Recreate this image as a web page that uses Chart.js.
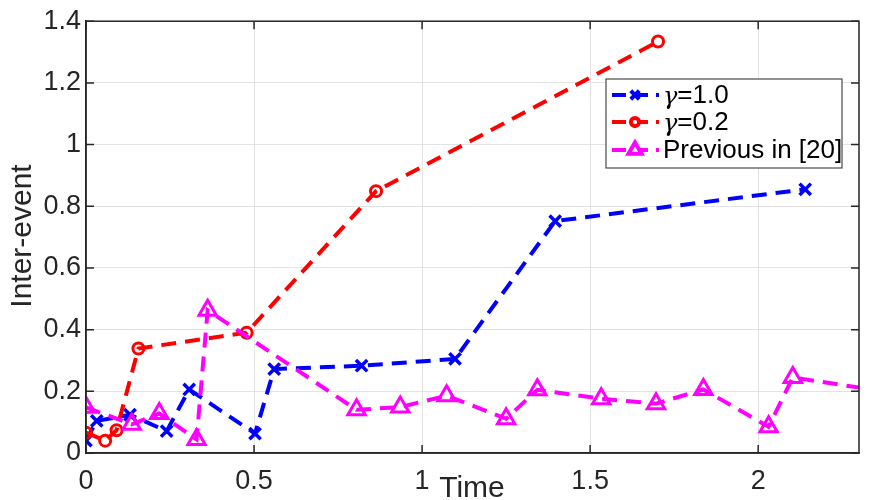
<!DOCTYPE html>
<html>
<head>
<meta charset="utf-8">
<script src="https://cdn.jsdelivr.net/npm/chart.js@4.4.0/dist/chart.umd.min.js"></script>
<style>
  html, body { margin: 0; padding: 0; background: #ffffff; }
  #wrap { width: 875px; height: 500px; }
</style>
</head>
<body>
<div id="wrap"><canvas id="myChart" width="875" height="500"></canvas></div>
<script>
// series data
const gamma1X = [0, 0.032, 0.131, 0.24, 0.307, 0.503, 0.56, 0.82, 1.098, 1.396, 2.14];
const gamma1Y = [0.04, 0.104, 0.124, 0.071, 0.206, 0.063, 0.272, 0.283, 0.305, 0.752, 0.855];

const gamma02X = [0, 0.057, 0.091, 0.156, 0.478, 0.863, 1.702];
const gamma02Y = [0.066, 0.04, 0.074, 0.339, 0.39, 0.849, 1.334];

const prevX = [0, 0.136, 0.218, 0.329, 0.362, 0.805, 0.935, 1.073, 1.25, 1.343, 1.533, 1.696, 1.837, 2.031, 2.103, 2.45];
const prevY = [0.148, 0.093, 0.128, 0.044, 0.463, 0.14, 0.149, 0.186, 0.111, 0.205, 0.176, 0.16, 0.206, 0.085, 0.245, 0.187];

const xTicks = [0, 0.5, 1, 1.5, 2];
const yTicks = [0, 0.2, 0.4, 0.6, 0.8, 1, 1.2, 1.4];

const legendLabels = ['=1.0', '=0.2', 'Previous in [20]'];

const toPoints = (xs, ys) => xs.map((x, i) => ({ x: x, y: ys[i] }));
const fmt = v => String(+Number(v).toFixed(2));

const AXIS = '#262626';
const FONT = '"Liberation Sans", Arial, sans-serif';

// MATLAB-like box, inward ticks, axis titles and legend
const matlabBox = {
    id: 'matlabBox',
    afterDraw(chart) {
        const ctx = chart.ctx;
        const a = chart.chartArea;
        const xs = chart.scales.x;
        const ys = chart.scales.y;
        ctx.save();
        ctx.strokeStyle = AXIS;
        ctx.lineWidth = 1.5;
        ctx.strokeRect(a.left, a.top, a.right - a.left, a.bottom - a.top);
        ctx.beginPath();
        xTicks.forEach(v => {
            const px = xs.getPixelForValue(v);
            ctx.moveTo(px, a.bottom); ctx.lineTo(px, a.bottom - 8);
            ctx.moveTo(px, a.top); ctx.lineTo(px, a.top + 8);
        });
        yTicks.forEach(v => {
            const py = ys.getPixelForValue(v);
            ctx.moveTo(a.left, py); ctx.lineTo(a.left + 8, py);
            ctx.moveTo(a.right, py); ctx.lineTo(a.right - 8, py);
        });
        ctx.stroke();

        // axis titles
        ctx.fillStyle = AXIS;
        ctx.font = '30px ' + FONT;
        ctx.textAlign = 'center';
        ctx.textBaseline = 'alphabetic';
        ctx.fillText('Time', 472, 497);
        ctx.save();
        ctx.translate(31, 236);
        ctx.rotate(-Math.PI / 2);
        ctx.fillText('Inter-event', 0, 0);
        ctx.restore();

        // legend
        const lx = 606, ly = 79, lw = 236, lh = 89;
        ctx.fillStyle = '#ffffff';
        ctx.fillRect(lx, ly, lw, lh);
        ctx.strokeStyle = AXIS;
        ctx.lineWidth = 1;
        ctx.strokeRect(lx, ly, lw, lh);
        const rows = [95, 122, 150];
        const sets = chart.data.datasets;
        sets.forEach((ds, i) => {
            const y = rows[i];
            ctx.strokeStyle = ds.borderColor;
            ctx.lineWidth = 4;
            ctx.setLineDash([14, 8]);
            ctx.beginPath();
            ctx.moveTo(612, y); ctx.lineTo(659, y);
            ctx.stroke();
            ctx.setLineDash([]);
            ctx.fillStyle = '#ffffff';
            Chart.helpers.drawPoint(ctx, {
                pointStyle: ds.pointStyle,
                radius: ds.pointRadius * 0.75,
                borderWidth: ds.pointBorderWidth
            }, 635, y);
            ctx.fillStyle = '#000000';
            ctx.textAlign = 'left';
            ctx.textBaseline = 'middle';
            let tx = 663;
            if (i < 2) {
                ctx.font = 'italic 24px "DejaVu Serif", serif';
                ctx.fillText('\u03b3', tx, y + 3);
                tx += ctx.measureText('\u03b3').width;
            }
            ctx.font = '26px ' + FONT;
            ctx.fillText(legendLabels[i], tx, y + 1);
        });
        ctx.restore();
    }
};

const data = {
    datasets: [{
        label: 'gamma 1.0',
        data: toPoints(gamma1X, gamma1Y),
        borderColor: '#0000ff',
        backgroundColor: 'transparent',
        borderWidth: 4,
        borderDash: [15, 9],
        pointStyle: 'crossRot',
        pointRadius: 8,
        pointBorderWidth: 3.5,
        pointBorderColor: '#0000ff',
        order: 3
    }, {
        label: 'gamma 0.2',
        data: toPoints(gamma02X, gamma02Y),
        borderColor: '#ff0000',
        backgroundColor: 'transparent',
        borderWidth: 4,
        borderDash: [15, 9],
        pointStyle: 'circle',
        pointRadius: 5.5,
        pointBorderWidth: 3,
        pointBorderColor: '#ff0000',
        order: 2
    }, {
        label: 'Previous in [20]',
        data: toPoints(prevX, prevY),
        borderColor: '#ff00ff',
        backgroundColor: 'transparent',
        borderWidth: 4,
        borderDash: [15, 9],
        pointStyle: 'triangle',
        pointRadius: 10,
        pointBorderWidth: 3,
        pointBorderColor: '#ff00ff',
        order: 1
    }]
};

const config = {
    type: 'line',
    data: data,
    plugins: [matlabBox],
    options: {
        responsive: false,
        animation: false,
        devicePixelRatio: 1,
        layout: { padding: { top: 18, right: 16, left: 0, bottom: 0 } },
        plugins: {
            legend: false,
            tooltip: { enabled: false }
        },
        elements: { line: { tension: 0 } },
        scales: {
            x: {
                type: 'linear',
                min: 0,
                max: 2.3,
                afterFit: s => { s.height = 47; },
                afterBuildTicks: s => { s.ticks = xTicks.map(v => ({ value: v })); },
                grid: { color: '#e3e3e3', drawTicks: false },
                border: { color: AXIS, width: 1.5 },
                ticks: { color: AXIS, padding: 12, font: { size: 27, family: FONT }, callback: fmt }
            },
            y: {
                type: 'linear',
                min: 0,
                max: 1.4,
                afterFit: s => { s.width = 86; },
                afterBuildTicks: s => { s.ticks = yTicks.map(v => ({ value: v })); },
                grid: { color: '#e3e3e3', drawTicks: false },
                border: { color: AXIS, width: 1.5 },
                ticks: { color: AXIS, padding: 5, font: { size: 27, family: FONT }, callback: fmt }
            }
        }
    }
};

const myChart = new Chart(document.getElementById('myChart'), config);
</script>
</body>
</html>
